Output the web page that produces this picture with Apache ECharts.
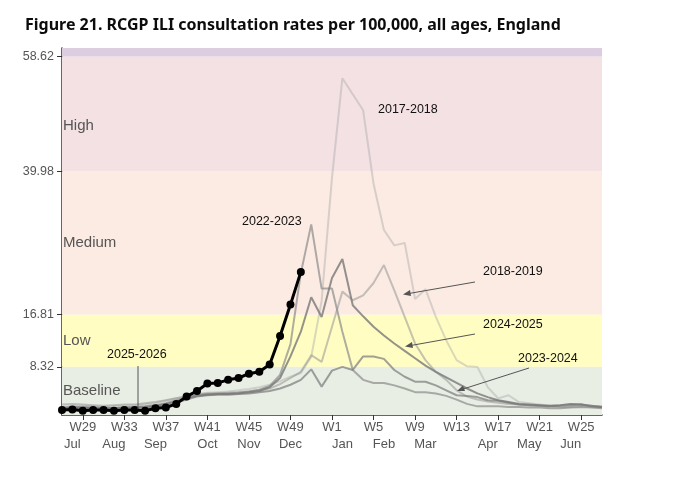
<!DOCTYPE html>
<html>
<head>
<meta charset="utf-8">
<script src="https://cdn.jsdelivr.net/npm/echarts@6/dist/echarts.min.js"></script>
<style>html,body{margin:0;padding:0;background:#fff}#main{width:680px;height:480px}</style>
</head>
<body>
<div id="main"></div>
<script>
var weeks = [];
for (var w = 27; w <= 52; w++) weeks.push('W' + w);
for (var w2 = 1; w2 <= 27; w2++) weeks.push('W' + w2);

var monthLabels = {1: 'Jul', 5: 'Aug', 9: 'Sep', 14: 'Oct', 18: 'Nov', 22: 'Dec', 27: 'Jan', 31: 'Feb', 35: 'Mar', 41: 'Apr', 45: 'May', 49: 'Jun'};
var thresholds = [8.32, 16.81, 39.98, 58.62];

var s2017 = [1.8,1.9,2,1.9,1.8,1.9,2,2.1,2.2,2.4,2.8,3.2,3.6,3.9,4.1,4.2,4.3,4.5,4.7,5.0,
  5.4,6,6.7,7.3,9.9,19,39,55.1,52.5,49.9,38,30.5,28,28.4,19.3,20.9,16.4,12.6,9.4,8.4,8.3,5,3.2,3.7,2.6,2.4,2.2,2.0,2.1,2.3,2.2,2.0,1.9];
var s2018 = [2.2,2.3,2.2,2.1,2.0,2.1,2.2,2.2,2.4,2.6,2.9,3.2,3.5,3.8,4.0,4.0,4.1,4.2,4.3,4.5,
  4.8,5.5,6.5,7.5,10.2,9.1,14.8,20.5,19.1,19.9,21.9,24.8,20.7,16.4,12.1,9.4,7.5,6.2,4.5,3.5,3.0,2.7,2.5,2.3,2.2,2.1,2.0,1.9,1.8,1.8,1.9,1.8,1.7];
var s2022 = [1.7,1.8,1.8,1.7,1.7,1.6,1.7,1.8,1.9,2.1,2.4,2.9,3.4,3.7,3.9,4.0,4.0,4.1,4.3,4.6,
  5.2,7,12,23.5,31.4,21,21,14,7.8,6.2,5.7,5.7,5.3,4.8,4.2,4.2,4.0,3.6,3.0,2.3,1.9,1.9,1.9,1.8,1.8,1.7,1.7,1.6,1.6,1.7,1.8,1.7,1.6];
var s2023 = [1.5,1.6,1.6,1.5,1.5,1.5,1.6,1.6,1.7,1.9,2.1,2.5,3.0,3.5,3.7,3.8,3.8,3.9,4.0,4.2,
  4.4,4.8,5.4,6.2,7.9,5.1,7.7,8.3,7.8,10,10,9.6,7.8,6.7,5.9,5.9,5.3,4.5,3.7,3.6,3.4,2.9,2.8,2.5,2.2,2.1,2.0,1.9,2.0,2.1,2.2,2.0,1.8];
var s2024 = [1.6,1.7,1.7,1.6,1.6,1.6,1.7,1.7,1.8,2.0,2.3,2.7,3.2,3.6,3.8,3.9,3.9,4.0,4.2,4.4,
  5.0,6.5,10,14,19.6,16.4,22.7,25.8,18.3,16.5,14.8,13.4,12.1,10.9,9.7,8.5,7.5,6.6,5.7,4.8,4.0,3.4,2.9,2.6,2.3,2.2,2.1,2.0,2.1,2.3,2.2,1.9,1.8];
var s2025 = [1.3,1.4,1.2,1.3,1.3,1.2,1.3,1.3,1.2,1.6,1.7,2.3,3.5,4.4,5.6,5.7,6.2,6.5,7.2,7.5,8.7,13.3,18.4,23.7];

var myChart = echarts.init(document.getElementById('main'));
var font = 'Liberation Sans';

function grey(name, data, color, width) {
  return {name: name, type: 'line', data: data, symbol: 'none', silent: true,
    lineStyle: {color: color, width: width}, z: 3};
}

function band(from, to, color, label, dy) {
  return [{yAxis: from, itemStyle: {color: color},
    label: {show: !!label, formatter: label || '', position: 'insideLeft', color: '#555', fontSize: 15, fontFamily: font, offset: [-4, dy || 0]}},
    {yAxis: to}];
}

function txt(x, y, s) {
  return {type: 'text', x: x, y: y, z: 100, style: {text: s, fill: '#111', fontSize: 12.5, fontFamily: font}};
}
function seg(x1, y1, x2, y2) {
  return {type: 'line', z: 100, shape: {x1: x1, y1: y1, x2: x2, y2: y2}, style: {stroke: '#555', lineWidth: 1}};
}
function head(pts) {
  return {type: 'polygon', z: 100, shape: {points: pts}, style: {fill: '#555'}};
}

var option = {
  animation: false,
  backgroundColor: '#fff',
  title: {text: 'Figure 21. RCGP ILI consultation rates per 100,000, all ages, England',
    left: 20, top: 12, textStyle: {fontSize: 16, fontWeight: 'bold', color: '#0b0c0c', fontFamily: 'Noto Sans'}},
  grid: {left: 62, right: 78, top: 48, bottom: 65},
  xAxis: [{
    type: 'category', data: weeks, boundaryGap: false,
    axisLine: {lineStyle: {color: '#333', width: 1.5}},
    axisTick: {show: true, interval: function (i) { return i % 4 === 2; }, lineStyle: {color: '#333'}},
    axisLabel: {interval: function (i) { return i % 4 === 2; }, color: '#555', fontSize: 13, fontFamily: font, margin: 6}
  }, {
    type: 'category', data: weeks, boundaryGap: false, position: 'bottom', offset: 17,
    axisLine: {show: false}, axisTick: {show: false},
    axisLabel: {interval: function (i) { return monthLabels[i] !== undefined; },
      formatter: function (v, i) { return monthLabels[i] || ''; }, color: '#555', fontSize: 13, fontFamily: font, margin: 6}
  }],
  yAxis: {
    type: 'value', min: 0.5, max: 60, splitLine: {show: false},
    axisLine: {show: true, lineStyle: {color: '#333', width: 1.5}},
    axisTick: {show: true, customValues: thresholds, lineStyle: {color: '#333'}},
    axisLabel: {customValues: thresholds, formatter: function (v) { return v.toFixed(2); }, color: '#555', fontSize: 12.5, fontFamily: font}
  },
  series: [
    {type: 'line', data: [], xAxisIndex: 0, silent: true,
      markArea: {silent: true, data: [
        band(0.5, 8.32, '#e8eee3', 'Baseline'),
        band(8.32, 16.81, '#fffdc2', 'Low'),
        band(16.81, 39.98, '#fcebe2', 'Medium'),
        band(39.98, 58.62, '#f4e1e4', 'High', 12),
        band(58.62, 60, '#dccde0')
      ]}},
    {type: 'line', data: [], xAxisIndex: 1},
    grey('2017-2018', s2017, 'rgba(170,170,170,0.45)', 2),
    grey('2018-2019', s2018, 'rgba(150,150,150,0.55)', 2),
    grey('2022-2023', s2022, 'rgba(140,140,140,0.7)', 2),
    grey('2023-2024', s2023, 'rgba(130,130,130,0.75)', 2),
    grey('2024-2025', s2024, 'rgba(120,120,120,0.8)', 2),
    {name: '2025-2026', type: 'line', data: s2025, symbol: 'circle', symbolSize: 8, showAllSymbol: true,
      itemStyle: {color: '#000'}, lineStyle: {color: '#000', width: 3}, z: 5}
  ],
  graphic: {elements: [
    txt(378, 103, '2017-2018'),
    txt(242, 215, '2022-2023'),
    txt(483, 265, '2018-2019'),
    txt(483, 318, '2024-2025'),
    txt(518, 352, '2023-2024'),
    txt(107, 348, '2025-2026'),
    seg(138, 366, 138, 409),
    seg(475, 282, 406, 294), head([[403, 294.5], [410, 290], [411, 296]]),
    seg(475, 334, 408, 346), head([[405, 346.5], [412, 342], [413, 348]]),
    seg(529, 368, 460, 390), head([[457, 391], [463, 385.5], [465, 391]])
  ]}
};
myChart.setOption(option);
</script>
</body>
</html>
